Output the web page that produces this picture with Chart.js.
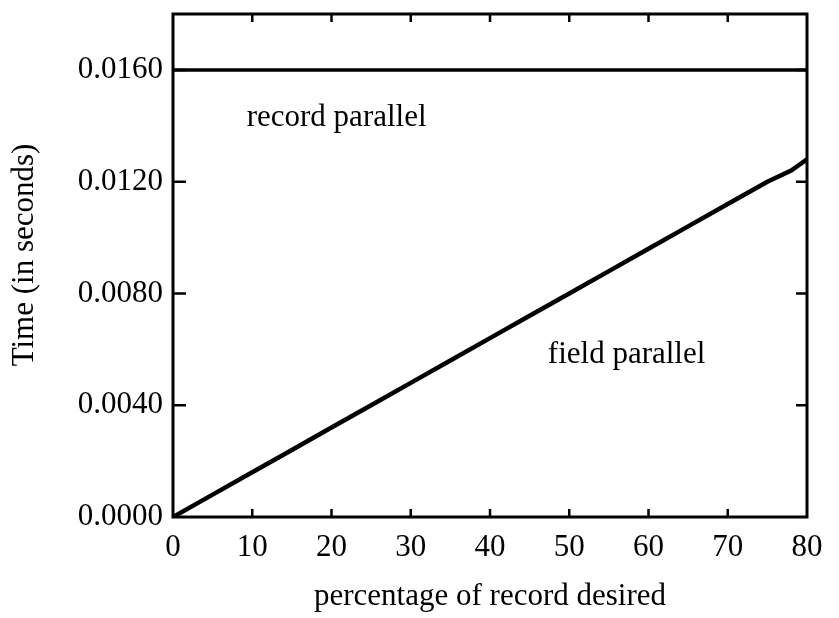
<!DOCTYPE html>
<html>
<head>
<meta charset="utf-8">
<script src="https://cdn.jsdelivr.net/npm/chart.js@4"></script>
<style>
  html, body { margin: 0; padding: 0; background: #fff; }
  #wrap { width: 839px; height: 618px; }
</style>
</head>
<body>
<div id="wrap"><canvas id="timeChart" width="839" height="618"></canvas></div>
<script>
// values
const fieldX = [0, 5, 10, 15, 20, 25, 30, 35, 40, 45, 50, 55, 60, 65, 70, 75, 78, 80];
const fieldY = [0, 0.0008, 0.0016, 0.0024, 0.0032, 0.0040, 0.0048, 0.0056, 0.0064,
                0.0072, 0.0080, 0.0088, 0.0096, 0.0104, 0.0112, 0.0120, 0.0124, 0.0128];
const recordX = [0, 80];
const recordY = [0.0160, 0.0160];
const xTicks = [0, 10, 20, 30, 40, 50, 60, 70, 80];
const yTicks = [0, 0.004, 0.008, 0.012, 0.016];

const FONT = '"Liberation Serif", "Times New Roman", serif';
const toPoints = (xs, ys) => xs.map((x, i) => ({ x: x, y: ys[i] }));

// frame, inward tick marks, labels inside the plot and the y title
const decor = {
    id: 'decor',
    afterDraw(chart) {
        const ctx = chart.ctx;
        const a = chart.chartArea;
        const xs = chart.scales.x, ys = chart.scales.y;
        ctx.save();
        ctx.strokeStyle = '#000';
        ctx.lineWidth = 3;
        ctx.strokeRect(a.left, a.top, a.right - a.left, a.bottom - a.top);

        ctx.lineWidth = 2.5;
        ctx.beginPath();
        xTicks.slice(1, -1).forEach(v => {
            const px = xs.getPixelForValue(v);
            ctx.moveTo(px, a.bottom); ctx.lineTo(px, a.bottom - 8);
            ctx.moveTo(px, a.top); ctx.lineTo(px, a.top + 8);
        });
        yTicks.slice(1).forEach(v => {
            const py = ys.getPixelForValue(v);
            ctx.moveTo(a.left, py); ctx.lineTo(a.left + 13, py);
            ctx.moveTo(a.right, py); ctx.lineTo(a.right - 11, py);
        });
        ctx.stroke();

        ctx.fillStyle = '#000';
        ctx.font = '31px ' + FONT;
        ctx.textBaseline = 'middle';
        ctx.textAlign = 'left';
        ctx.fillText('record parallel', xs.getPixelForValue(9.3), ys.getPixelForValue(0.0143));
        ctx.fillText('field parallel', xs.getPixelForValue(47.3), ys.getPixelForValue(0.0058));

        ctx.translate(25, 255);
        ctx.rotate(-Math.PI / 2);
        ctx.textAlign = 'center';
        ctx.fillText('Time (in seconds)', 0, 0);
        ctx.restore();
    }
};

const ctx = document.getElementById('timeChart').getContext('2d');
const timeChart = new Chart(ctx, {
    type: 'scatter',
    data: {
        datasets: [
            {
                label: 'record parallel',
                data: toPoints(recordX, recordY),
                showLine: true,
                borderColor: '#000',
                borderWidth: 3.5,
                pointRadius: 0
            },
            {
                label: 'field parallel',
                data: toPoints(fieldX, fieldY),
                showLine: true,
                borderColor: '#000',
                borderWidth: 4.5,
                pointRadius: 0
            }
        ]
    },
    options: {
        responsive: false,
        animation: false,
        layout: { padding: { left: 0, top: 14, right: 32, bottom: 0 } },
        plugins: {
            legend: { display: false },
            tooltip: { enabled: false }
        },
        scales: {
            x: {
                type: 'linear',
                min: 0,
                max: 80,
                afterFit: scale => {
                    scale.height = 101;
                    scale.paddingLeft = 0;
                    scale.paddingRight = 0;
                },
                afterBuildTicks: scale => { scale.ticks = xTicks.map(v => ({ value: v })); },
                grid: { display: false, drawTicks: false },
                border: { display: false },
                ticks: {
                    color: '#000',
                    padding: 12,
                    font: { family: FONT, size: 31 }
                },
                title: {
                    display: true,
                    text: 'percentage of record desired',
                    color: '#000',
                    padding: { top: 0, bottom: 3 },
                    font: { family: FONT, size: 31 }
                }
            },
            y: {
                type: 'linear',
                min: 0,
                max: 0.018,
                afterFit: scale => {
                    scale.width = 173;
                    scale.paddingTop = 0;
                    scale.paddingBottom = 0;
                },
                afterBuildTicks: scale => { scale.ticks = yTicks.map(v => ({ value: v })); },
                grid: { display: false, drawTicks: false },
                border: { display: false },
                ticks: {
                    color: '#000',
                    padding: 10,
                    font: { family: FONT, size: 31 },
                    callback: v => v.toFixed(4)
                }
            }
        }
    },
    plugins: [decor]
});
</script>
</body>
</html>
